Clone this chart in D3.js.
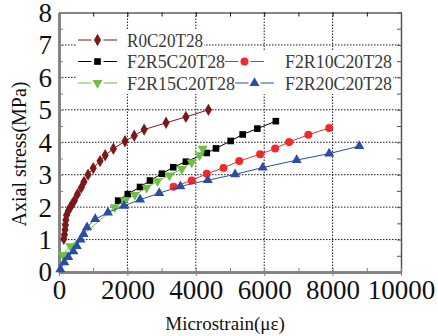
<!DOCTYPE html>
<html>
<head>
<meta charset="utf-8">
<script src="https://cdn.jsdelivr.net/npm/d3@7"></script>
<style>
  html, body { margin: 0; padding: 0; background: #fff; }
  svg { display: block; }
  svg text { font-family: "Liberation Serif", "DejaVu Serif", serif; }
</style>
</head>
<body>
<div id="chart"></div>
<script>
// ── Data ──────────────────────────────────────────────────────────────────
const seriesNames = ["R0C20T28", "F2R5C20T28", "F2R10C20T28", "F2R15C20T28", "F2R20C20T28"];

const r0 = [
  [140, 1.02], [160, 1.15], [175, 1.3], [190, 1.45], [200, 1.6], [220, 1.75],
  [270, 1.88], [330, 2.0], [390, 2.1], [450, 2.2], [540, 2.4], [650, 2.6],
  [730, 2.78], [850, 3.0], [1000, 3.2], [1200, 3.42], [1350, 3.6], [1590, 3.8],
  [1930, 4.03], [2200, 4.2], [2490, 4.39], [3130, 4.6], [3710, 4.78], [4370, 5.0]
];
const f2r5 = [
  [1730, 2.2], [2010, 2.4], [2370, 2.62], [2660, 2.82], [3010, 3.03], [3340, 3.23],
  [3710, 3.4], [4320, 3.67], [4590, 3.81], [5020, 4.04], [5370, 4.24], [5800, 4.42],
  [6340, 4.65]
];
const f2r10 = [
  [3350, 2.63], [3880, 2.82], [4320, 3.03], [4810, 3.21], [5270, 3.42], [5880, 3.63],
  [6320, 3.81], [6730, 4.01], [7290, 4.23], [7900, 4.44]
];
const f2r15 = [
  [110, 0.53], [330, 0.8], [1630, 2.0], [1930, 2.2], [2220, 2.38], [2560, 2.6],
  [2880, 2.8], [3230, 2.98], [3590, 3.18], [3880, 3.38], [4110, 3.6], [4200, 3.8]
];
const f2r20 = [
  [40, 0.08], [155, 0.3], [270, 0.46], [420, 0.64], [520, 0.8], [630, 1.0],
  [720, 1.17], [820, 1.38], [1060, 1.63], [1430, 1.83], [1900, 2.04], [2370, 2.23],
  [2930, 2.43], [3550, 2.64], [4350, 2.83], [5150, 3.01], [5960, 3.22], [6950, 3.45],
  [7900, 3.65], [8780, 3.88]
];

const xTicks = [0, 2000, 4000, 6000, 8000, 10000];
const yTicks = [0, 1, 2, 3, 4, 5, 6, 7, 8];
const xTitle = "Microstrain(\u03bc\u03b5)";
const yTitle = "Axial stress(MPa)";

// ── Styles ────────────────────────────────────────────────────────────────
const MAROON = "#7d1719";
const BLACK  = "#000000";
const RED    = "#f2292b";
const GREEN  = "#6cc144";
const BLUE   = "#2b4da6";
const FONT   = "Liberation Serif, DejaVu Serif, serif";

const styles = {
  "R0C20T28":    { color: MAROON, shape: d3.symbolDiamond, size: 44, rot: 0 },
  "F2R5C20T28":  { color: BLACK,  shape: d3.symbolSquare,  size: 44, rot: 0 },
  "F2R10C20T28": { color: RED,    shape: d3.symbolCircle,  size: 50, rot: 0 },
  "F2R15C20T28": { color: GREEN,  shape: d3.symbolTriangle, size: 44, rot: 180 },
  "F2R20C20T28": { color: BLUE,   shape: d3.symbolTriangle, size: 44, rot: 0 }
};
const dataByName = {
  "R0C20T28": r0, "F2R5C20T28": f2r5, "F2R10C20T28": f2r10,
  "F2R15C20T28": f2r15, "F2R20C20T28": f2r20
};
const drawOrder = ["R0C20T28", "F2R5C20T28", "F2R15C20T28", "F2R10C20T28", "F2R20C20T28"];

// ── Layout ────────────────────────────────────────────────────────────────
const W = 438, H = 336;
const margin = { top: 12.5, right: 37, bottom: 64, left: 59 };
const chartW = W - margin.left - margin.right;
const chartH = H - margin.top - margin.bottom;

const x = d3.scaleLinear().domain([0, 10000]).range([0, chartW]);
const y = d3.scaleLinear().domain([0, 8]).range([chartH, 0]);

const svg = d3.select("#chart").append("svg")
  .attr("width", W).attr("height", H);

const g = svg.append("g").attr("transform", `translate(${margin.left},${margin.top})`);

// Gridlines (dotted)
const grid = g.append("g").attr("stroke", "#1a1a1a").attr("stroke-width", 1)
  .attr("stroke-dasharray", "1.5,1.5");
xTicks.slice(1, -1).forEach(v => {
  grid.append("line").attr("x1", x(v)).attr("x2", x(v)).attr("y1", 0).attr("y2", chartH);
});
yTicks.slice(1, -1).forEach(v => {
  grid.append("line").attr("x1", 0).attr("x2", chartW).attr("y1", y(v)).attr("y2", y(v));
});

// Axes via d3 axis generators
const minorX = d3.range(0, 10001, 1000);
const minorY = d3.range(0, 8.01, 0.5);

function styleAxis(sel, color, width) {
  sel.attr("font-family", FONT);
  sel.select(".domain").attr("stroke", color).attr("stroke-width", width);
  sel.selectAll(".tick line").attr("stroke", color).attr("stroke-width", 1);
}

// top and right: inward ticks, no labels
const topAx = g.append("g").call(d3.axisTop(x).tickValues(minorX).tickSize(-4).tickFormat("").tickSizeOuter(0));
styleAxis(topAx, "#111", 1);
const rightAx = g.append("g").attr("transform", `translate(${chartW},0)`)
  .call(d3.axisRight(y).tickValues(minorY).tickSize(-4).tickFormat("").tickSizeOuter(0));
styleAxis(rightAx, "#555", 1.5);

// bottom: minor inward, major outward with labels
const botMinor = g.append("g").attr("transform", `translate(0,${chartH})`)
  .call(d3.axisBottom(x).tickValues(minorX).tickSize(-4).tickFormat("").tickSizeOuter(0));
styleAxis(botMinor, "#808080", 2.5);
const botAx = g.append("g").attr("transform", `translate(0,${chartH})`)
  .call(d3.axisBottom(x).tickValues(xTicks).tickFormat(d3.format("d"))
    .tickSize(4).tickPadding(2).tickSizeOuter(0));
styleAxis(botAx, "#808080", 2.5);
botAx.selectAll(".tick text")
  .attr("font-size", 27).attr("fill", "#111").attr("dy", "0.78em");

// left: minor inward, major with labels
const leftMinor = g.append("g")
  .call(d3.axisLeft(y).tickValues(minorY).tickSize(-4).tickFormat("").tickSizeOuter(0));
styleAxis(leftMinor, "#808080", 2.5);
const leftAx = g.append("g")
  .call(d3.axisLeft(y).tickValues(yTicks).tickFormat(d3.format("d"))
    .tickSize(0).tickPadding(7).tickSizeOuter(0));
styleAxis(leftAx, "#808080", 2.5);
leftAx.selectAll(".tick text")
  .attr("font-size", 27).attr("fill", "#111").attr("dy", "0.33em");

// Axis titles
svg.append("text")
  .attr("transform", `translate(25.5,154) rotate(-90)`)
  .attr("text-anchor", "middle")
  .attr("font-size", 20).attr("fill", "#111")
  .text(yTitle);
svg.append("text")
  .attr("x", 225).attr("y", 330)
  .attr("text-anchor", "middle")
  .attr("font-size", 19).attr("fill", "#111")
  .text(xTitle);

// ── Series ────────────────────────────────────────────────────────────────
const line = d3.line().x(d => x(d[0])).y(d => y(d[1]));

function marker(sel, st) {
  sel.append("path")
    .attr("d", d3.symbol().type(st.shape).size(st.size)())
    .attr("fill", st.color);
}

drawOrder.forEach(name => {
  const st = styles[name];
  const data = dataByName[name];
  const sg = g.append("g");
  sg.append("path").datum(data)
    .attr("d", line).attr("fill", "none")
    .attr("stroke", st.color).attr("stroke-width", 1);
  sg.selectAll("g.pt").data(data).join("g").attr("class", "pt")
    .attr("transform", d => `translate(${x(d[0])},${y(d[1])}) rotate(${st.rot})`)
    .each(function () { marker(d3.select(this), st); });
});

// ── Legend (Origin style, white boxes behind each row) ───────────────────
const legendRows = [
  { y: 40,   box: [76, 204], items: [{ name: "R0C20T28", lx: 78, tx: 127, tw: 76 }] },
  { y: 61.5, box: [76, 393], items: [{ name: "F2R5C20T28", lx: 78, tx: 127, tw: 98 },
                                      { name: "F2R10C20T28", lx: 225, tx: 285, tw: 107 }] },
  { y: 83,   box: [76, 393], items: [{ name: "F2R15C20T28", lx: 78, tx: 127, tw: 108 },
                                      { name: "F2R20C20T28", lx: 235, tx: 285, tw: 107 }] }
];

const lg = svg.append("g");
legendRows.forEach(row => {
  lg.append("rect")
    .attr("x", row.box[0]).attr("y", row.y - 10.5)
    .attr("width", row.box[1] - row.box[0]).attr("height", 21.5)
    .attr("fill", "#fff");
});
legendRows.forEach(row => {
  row.items.forEach(it => {
    const st = styles[it.name];
    const cx = it.lx + 19.5;
    lg.append("line").attr("x1", it.lx).attr("x2", cx - 6).attr("y1", row.y).attr("y2", row.y)
      .attr("stroke", st.color).attr("stroke-width", 1);
    lg.append("line").attr("x1", cx + 6).attr("x2", it.lx + 39).attr("y1", row.y).attr("y2", row.y)
      .attr("stroke", st.color).attr("stroke-width", 1);
    const mg = lg.append("g").attr("transform", `translate(${cx},${row.y}) rotate(${st.rot})`);
    marker(mg, st);
    lg.append("text")
      .attr("x", it.tx).attr("y", row.y + 6.5)
      .attr("textLength", it.tw).attr("lengthAdjust", "spacingAndGlyphs")
      .attr("font-size", 19).attr("fill", "#3a3a3a")
      .text(it.name);
  });
});
</script>
</body>
</html>
